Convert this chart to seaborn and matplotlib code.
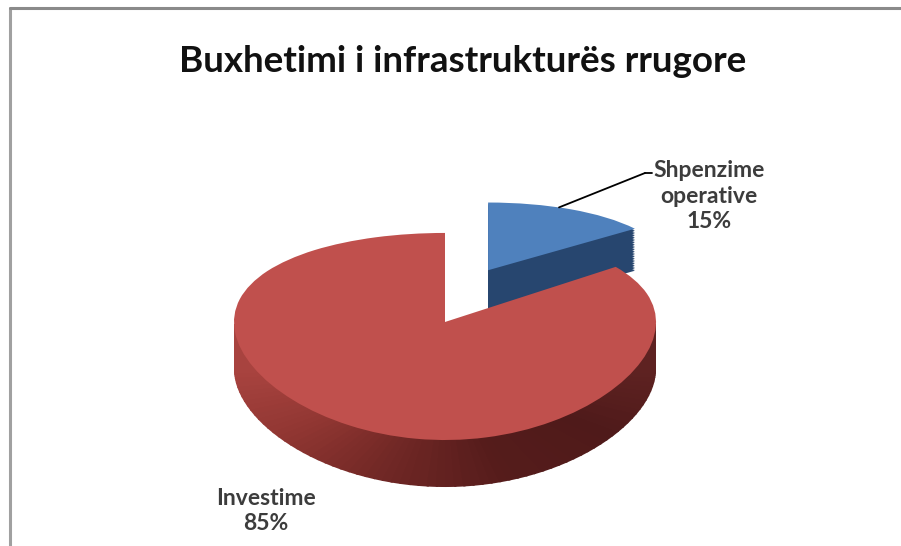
import numpy as np
import matplotlib
matplotlib.use("Agg")
import matplotlib.pyplot as plt
import seaborn as sns
from matplotlib.patches import Wedge
from matplotlib.lines import Line2D
from matplotlib.transforms import ScaledTranslation

# data
categories = ["Shpenzime operative", "Investime"]
shares = [15, 85]
pct_labels = ["15%", "85%"]
chart_title = "Buxhetimi i infrastrukturës rrugore"

sns.set_style("white")
plt.rcParams["font.family"] = ["Lato", "DejaVu Sans"]

W, H = 901, 546
fig = plt.figure(figsize=(W / 100, H / 100), dpi=100)
ax = fig.add_axes([0, 0, 1, 1])

top_colors = ["#4f81bd", "#c0504d"]
wedges, _ = ax.pie(shares, colors=top_colors, startangle=90, counterclock=False,
                   explode=[0.56, 0], wedgeprops=dict(linewidth=0))
blue, red = wedges
# Excel pulls the slice a bit more upward than along its bisector
cx, cy = blue.center
blue.set_center((cx - 0.05, cy + 0.05))
blue.set_radius(0.86)
blue.set_zorder(2)
red.set_zorder(4)

# fake perspective: back of the disc squeezed, front stretched
k = 0.14
ax.set_aspect("auto")
ax.set_yscale("function", functions=(lambda y: y / (1 + k * y), lambda s: s / (1 - k * s)))


def shifted(px):
    # move a patch straight down by px pixels (the side wall)
    return ax.transData + ScaledTranslation(0, -px / fig.dpi, fig.dpi_scale_trans)


n_layers = 24

# side wall of the exploded blue slice
for i in range(1, n_layers + 1):
    w = Wedge(blue.center, blue.r, blue.theta1, blue.theta2, color="#27466f", lw=0, zorder=1)
    w.set_transform(shifted(42 * i / n_layers))
    ax.add_patch(w)

# side wall of the red slice, shaded along the front arc
lo, hi = max(red.theta1, -180), min(red.theta2, 0)
angles = np.linspace(lo, hi, 73)
shades = sns.blend_palette(["#a8433f", "#923733", "#702725", "#551c1b", "#4f1a1a", "#5e2221"],
                           n_colors=len(angles) - 1)
for i in range(1, n_layers + 1):
    for j in range(len(angles) - 1):
        w = Wedge(red.center, red.r, angles[j], min(angles[j + 1] + 0.6, hi),
                  color=shades[j], lw=0, zorder=3)
        w.set_transform(shifted(47 * i / n_layers))
        ax.add_patch(w)

ax.set_xlim(-445 / 211, (W - 445) / 211)
ax.set_ylim(-1.686, 5.706)
ax.axis("off")

# leader line for the small slice
mid = np.deg2rad((blue.theta1 + blue.theta2) / 2 + 4)
tip = (blue.center[0] + blue.r * np.cos(mid), blue.center[1] + blue.r * np.sin(mid))
ax.annotate("", xy=tip, xycoords="data", xytext=(645, H - 173), textcoords="figure pixels",
            arrowprops=dict(arrowstyle="-", color="black", lw=1.3, shrinkA=0, shrinkB=0),
            zorder=5)
fig.add_artist(Line2D([645 / W, 652 / W], [1 - 173 / H, 1 - 173 / H], color="black", lw=1.3))

label_kw = dict(ha="center", va="center", fontsize=16.5, fontweight="bold",
                color="#3c3c3c", linespacing=1.25)
fig.text(709 / W, 1 - 196 / H, categories[0].replace(" ", "\n") + "\n" + pct_labels[0], **label_kw)
fig.text(266 / W, 1 - 511 / H, categories[1] + "\n" + pct_labels[1], **label_kw)

fig.text(463 / W, 1 - 62 / H, chart_title, ha="center", va="center",
         fontsize=26.5, fontweight="bold", color="#111111")

# chart area border (left and top only are visible)
fig.add_artist(Line2D([10 / W, 10 / W], [0, 1 - 8 / H], color="#a0a0a0", lw=2.2))
fig.add_artist(Line2D([10 / W, 1], [1 - 8 / H, 1 - 8 / H], color="#8a8a8a", lw=2.2))

fig.savefig("out.png", dpi=100)
